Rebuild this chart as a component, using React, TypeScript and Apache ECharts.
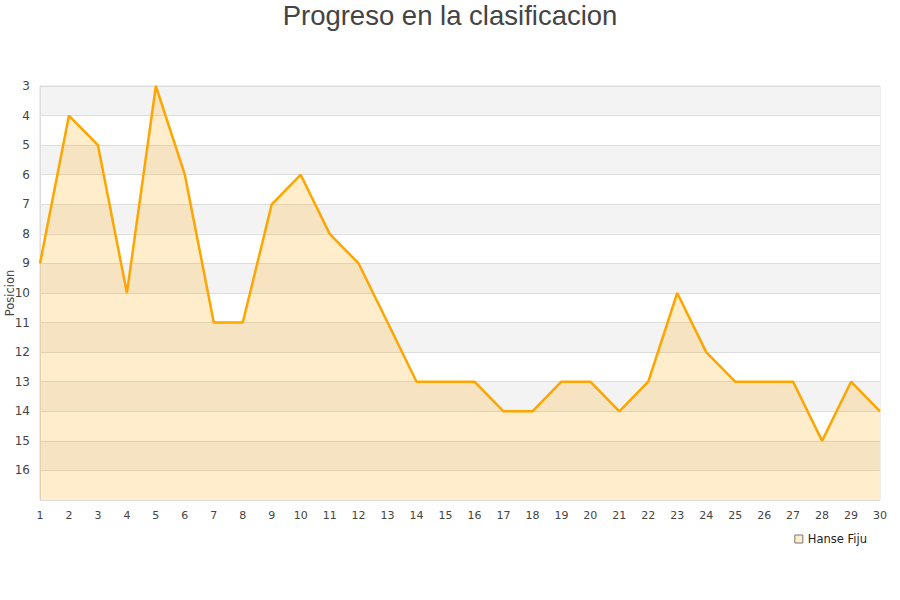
import { useRef, useEffect } from "react";
import * as echarts from "echarts";

const jornadas = [
  "1", "2", "3", "4", "5", "6", "7", "8", "9", "10",
  "11", "12", "13", "14", "15", "16", "17", "18", "19", "20",
  "21", "22", "23", "24", "25", "26", "27", "28", "29", "30",
];
const posiciones = [
  9, 4, 5, 10, 3, 6, 11, 11, 7, 6,
  8, 9, 11, 13, 13, 13, 14, 14, 13, 13,
  14, 13, 10, 12, 13, 13, 13, 15, 13, 14,
];
const teamName = "Hanse Fiju";
const chartTitle = "Progreso en la clasificacion";
const yAxisName = "Posicion";
const yMin = 3;
const yMax = 17;

export default function App() {
  const chartRef = useRef<HTMLDivElement>(null);

  useEffect(() => {
    document.body.style.margin = "0";
    if (!chartRef.current) return;
    const chart = echarts.init(chartRef.current, undefined, { renderer: "svg" });

    chart.setOption({
      animation: false,
      backgroundColor: "#fff",
      textStyle: { fontFamily: "DejaVu Sans" },
      title: {
        text: chartTitle,
        left: "center",
        top: -4,
        textStyle: {
          fontFamily: "Liberation Sans",
          fontSize: 27.5,
          fontWeight: "normal",
          color: "#444",
        },
      },
      legend: {
        data: [teamName],
        right: 28,
        top: 528,
        icon: "rect",
        itemWidth: 8,
        itemHeight: 8,
        itemGap: 6,
        itemStyle: { color: "#ffedcc", borderColor: "#777", borderWidth: 1 },
        textStyle: { fontSize: 11.5, color: "#222", fontFamily: "DejaVu Sans" },
      },
      grid: {
        left: 40,
        right: 20,
        top: 86,
        bottom: 100,
        outerBoundsMode: "none",
        containLabel: false,
        show: true,
        borderColor: "#ddd",
        borderWidth: 1,
      },
      xAxis: {
        type: "category",
        boundaryGap: false,
        data: jornadas,
        axisLine: { lineStyle: { color: "#ddd" } },
        axisTick: { show: false },
        axisLabel: { color: "#444", fontSize: 11, margin: 10 },
        splitLine: { show: false },
      },
      yAxis: {
        type: "value",
        inverse: true,
        min: yMin,
        max: yMax,
        interval: 1,
        name: yAxisName,
        nameLocation: "middle",
        nameGap: 24,
        nameMoveOverlap: false,
        nameTextStyle: { fontSize: 11.5, color: "#444" },
        axisLine: { show: true, lineStyle: { color: "#ddd" } },
        axisTick: { show: false },
        axisLabel: {
          color: "#444",
          fontSize: 12,
          margin: 10,
          formatter: (v: number) => (v === yMax ? "" : String(v)),
        },
        splitLine: { lineStyle: { color: "#ddd" } },
        splitArea: { show: true, areaStyle: { color: ["#f3f3f3", "#ffffff"] } },
      },
      series: [
        {
          name: teamName,
          type: "line",
          data: posiciones,
          showSymbol: false,
          symbol: "none",
          lineStyle: { color: "#ffa500", width: 2.5 },
          itemStyle: { color: "#ffa500" },
          areaStyle: { color: "rgba(255,165,0,0.2)", opacity: 1, origin: "end" },
        },
      ],
    });

    return () => {
      chart.dispose();
    };
  }, []);

  return <div ref={chartRef} style={{ width: "900px", height: "600px" }} />;
}
